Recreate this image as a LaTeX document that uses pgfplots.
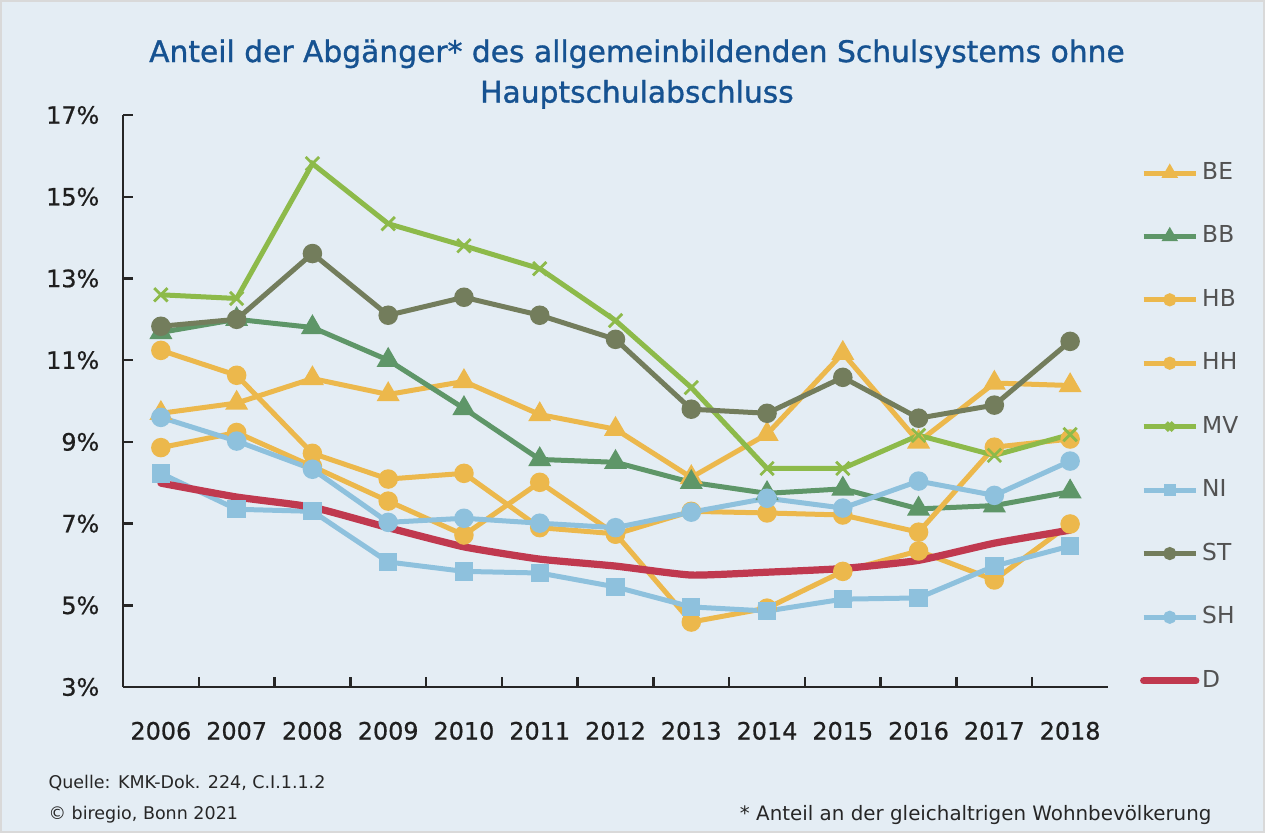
\documentclass[border=0pt]{standalone}
\usepackage{pgfplots}
\pgfplotsset{compat=1.18}
\usepackage{fontspec}
\setmainfont{DejaVu Sans}
\newfontfamily\titlefont[FakeBold=1.1]{DejaVu Sans}
\newfontfamily\tickfont[FakeBold=0.7]{DejaVu Sans}
\definecolor{orC}{RGB}{236,184,76}
\definecolor{bbG}{RGB}{94,150,104}
\definecolor{mvG}{RGB}{141,186,74}
\definecolor{lB}{RGB}{142,193,221}
\definecolor{olC}{RGB}{115,125,92}
\definecolor{dR}{RGB}{192,57,79}
\definecolor{bgC}{RGB}{228,237,244}
\definecolor{tB}{RGB}{22,82,145}
\begin{document}
\begin{tikzpicture}
\fill[bgC] (0,0) rectangle (455.4pt,299.88pt);
\draw[black!15, line width=0.6pt] (0.3pt,0.3pt) rectangle (455.1pt,299.58pt);
\path[use as bounding box] (0,0) rectangle (455.4pt,299.88pt);
\begin{axis}[
  at={(44.28pt,52.56pt)}, anchor=south west,
  scale only axis, width=354.6pt, height=205.9pt,
  xmin=-0.5, xmax=12.5, ymin=3, ymax=17,
  axis x line*=bottom, axis y line*=left,
  axis line style={line width=0.9pt, black!85},
  ytick={3,5,...,17},
  yticklabel={\pgfmathprintnumber{\tick}\%},
  /pgf/number format/assume math mode=true,
  xtick={0.5,1.5,...,11.5}, xticklabels={},
  extra x ticks={0,...,12},
  extra x tick labels={2006,2007,2008,2009,2010,2011,2012,2013,2014,2015,2016,2017,2018},
  extra x tick style={major tick length=0pt},
  major tick length=3.6pt,
  tick style={line width=0.9pt, black!85},
  tick align=inside,
  ticklabel style={font=\tickfont\fontsize{8.6}{10}\selectfont, text=black!88},
  xticklabel style={yshift=-9pt},
  yticklabel style={xshift=-5pt},
  clip=false,
  legend cell align=left,
  legend style={at={(1.032,0.923)}, anchor=north west, draw=none, fill=none,
    font=\fontsize{8.4}{10}\selectfont, text=black!68, row sep=13.2pt, inner sep=0pt,
    /tikz/every even column/.append style={column sep=0pt},
    nodes={inner sep=1pt}},
  legend image code/.code={\draw[mark repeat=2,mark phase=2, mark options={scale=0.55}] plot coordinates {(0cm,0cm) (0.33cm,0cm) (0.66cm,0cm)};},
]
\addplot[orC, line width=1.8pt, mark=triangle*, mark size=3pt] coordinates {(0,9.7)(1,9.95)(2,10.55)(3,10.16)(4,10.48)(5,9.67)(6,9.31)(7,8.13)(8,9.19)(9,11.17)(10,9.0)(11,10.44)(12,10.38)};
\addlegendentry{BE}
\addplot[bbG, line width=1.8pt, mark=triangle*, mark size=3pt] coordinates {(0,11.68)(1,12.0)(2,11.8)(3,11.0)(4,9.82)(5,8.57)(6,8.5)(7,8.01)(8,7.74)(9,7.85)(10,7.36)(11,7.44)(12,7.78)};
\addlegendentry{BB}
\addplot[orC, line width=1.8pt, mark=*, mark size=2.6pt] coordinates {(0,11.24)(1,10.63)(2,8.72)(3,8.09)(4,8.23)(5,6.9)(6,6.75)(7,4.59)(8,4.93)(9,5.83)(10,6.33)(11,5.62)(12,6.99)};
\addlegendentry{HB}
\addplot[orC, line width=1.8pt, mark=*, mark size=2.6pt] coordinates {(0,8.86)(1,9.23)(2,8.4)(3,7.55)(4,6.72)(5,8.01)(6,6.74)(7,7.3)(8,7.26)(9,7.21)(10,6.79)(11,8.87)(12,9.07)};
\addlegendentry{HH}
\addplot[mvG, line width=1.8pt, mark=x, mark size=3.4pt, mark options={line width=1pt}] coordinates {(0,12.6)(1,12.51)(2,15.81)(3,14.34)(4,13.8)(5,13.24)(6,11.97)(7,10.33)(8,8.35)(9,8.35)(10,9.16)(11,8.67)(12,9.18)};
\addlegendentry{MV}
\addplot[lB, line width=1.8pt, mark=square*, mark size=2.4pt] coordinates {(0,8.23)(1,7.35)(2,7.3)(3,6.06)(4,5.83)(5,5.79)(6,5.45)(7,4.96)(8,4.86)(9,5.15)(10,5.18)(11,5.96)(12,6.45)};
\addlegendentry{NI}
\addplot[olC, line width=1.8pt, mark=*, mark size=2.6pt] coordinates {(0,11.83)(1,12.0)(2,13.61)(3,12.1)(4,12.54)(5,12.1)(6,11.51)(7,9.8)(8,9.7)(9,10.58)(10,9.58)(11,9.9)(12,11.46)};
\addlegendentry{ST}
\addplot[lB, line width=1.8pt, mark=*, mark size=2.6pt] coordinates {(0,9.6)(1,9.02)(2,8.33)(3,7.03)(4,7.13)(5,7.01)(6,6.9)(7,7.28)(8,7.62)(9,7.38)(10,8.04)(11,7.69)(12,8.53)};
\addlegendentry{SH}
\addplot[dR, line width=2.6pt, smooth, tension=0.3, line cap=round] coordinates {(0,7.99)(1,7.65)(2,7.4)(3,6.9)(4,6.43)(5,6.13)(6,5.96)(7,5.74)(8,5.81)(9,5.9)(10,6.1)(11,6.52)(12,6.84)};
\addlegendentry{D}
\end{axis}
\node[align=center, text=tB, font=\titlefont\fontsize{10.7}{14.6}\selectfont] at (229.3pt,273.2pt) {Anteil der Abgänger* des allgemeinbildenden Schulsystems ohne\\Hauptschulabschluss};
\node[anchor=west, text=black!85, font=\fontsize{6.3}{7}\selectfont, inner sep=0pt] at (17.3pt,18pt) {Quelle: KMK-Dok. 224, C.I.1.1.2};
\node[anchor=west, text=black!85, font=\fontsize{6.3}{7}\selectfont, inner sep=0pt] at (17.3pt,6.5pt) {© biregio, Bonn 2021};
\node[anchor=east, text=black!85, font=\fontsize{7.15}{8}\selectfont, inner sep=0pt] at (436.3pt,6.5pt) {* Anteil an der gleichaltrigen Wohnbevölkerung};
\end{tikzpicture}
\end{document}
